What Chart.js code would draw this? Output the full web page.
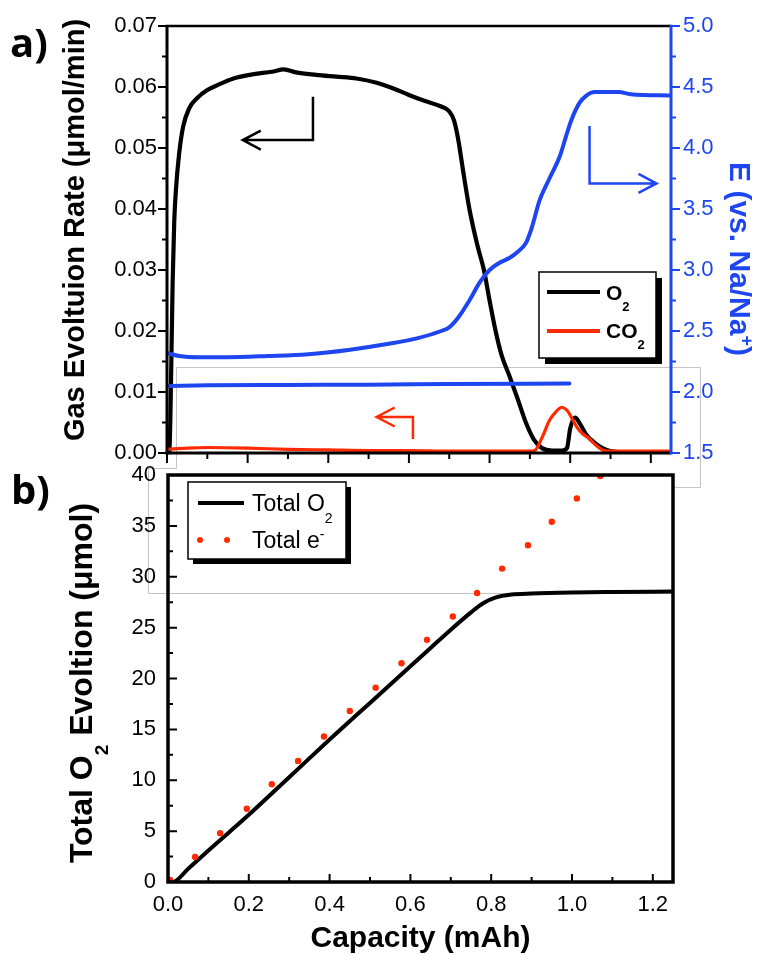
<!DOCTYPE html>
<html>
<head>
<meta charset="utf-8">
<title>Gas evolution and total O2</title>
<script src="https://cdn.jsdelivr.net/npm/chart.js@4.4.1/dist/chart.umd.min.js"></script>
<style>
  html, body { margin: 0; padding: 0; background: #fff; }
  #wrap { position: relative; width: 757px; height: 954px; }
  #wrap canvas { position: absolute; left: 0; top: 0; }
</style>
</head>
<body>
<div id="wrap">
  <canvas id="rateChart" width="757" height="954"></canvas>
  <canvas id="totalChart" width="757" height="954"></canvas>
</div>
<script>
// ---- panel a) : gas evolution rate (umol/min) and potential vs capacity (mAh)
const o2RateCap = [0, 0.006, 0.010, 0.014, 0.018, 0.022, 0.030, 0.040, 0.055, 0.075, 0.100, 0.125, 0.165, 0.215, 0.260, 0.290, 0.320, 0.370, 0.420, 0.470, 0.520, 0.560, 0.600, 0.640, 0.680, 0.700, 0.712, 0.722, 0.735, 0.750, 0.770, 0.786, 0.800, 0.815, 0.830, 0.850, 0.870, 0.890, 0.910, 0.930, 0.955, 0.980, 0.992, 1.000, 1.012, 1.025, 1.040, 1.060, 1.080, 1.100, 1.150, 1.250];
const o2Rate = [0, 0.0002, 0.0120, 0.0280, 0.0380, 0.0430, 0.0490, 0.0535, 0.0565, 0.0582, 0.0595, 0.0603, 0.0614, 0.0621, 0.0625, 0.0629, 0.0624, 0.0620, 0.0617, 0.0614, 0.0607, 0.0598, 0.0587, 0.0577, 0.0568, 0.0560, 0.0545, 0.0515, 0.0460, 0.0400, 0.0340, 0.0300, 0.0250, 0.0200, 0.0160, 0.0125, 0.0088, 0.0050, 0.0022, 0.0008, 0.0004, 0.0004, 0.0008, 0.0040, 0.0058, 0.0047, 0.0030, 0.0017, 0.0008, 0.0003, 0.0001, 0.0001];

const co2RateCap = [0, 0.05, 0.1, 0.2, 0.3, 0.4, 0.5, 0.6, 0.7, 0.8, 0.9, 0.912, 0.93, 0.949, 0.965, 0.979, 0.992, 1.005, 1.016, 1.03, 1.045, 1.06, 1.08, 1.1, 1.25];
const co2Rate = [0.0006, 0.0008, 0.0009, 0.0008, 0.0006, 0.0005, 0.0004, 0.0004, 0.0003, 0.0003, 0.0003, 0.0004, 0.0025, 0.0054, 0.0068, 0.0075, 0.0070, 0.0056, 0.0043, 0.0032, 0.0025, 0.0015, 0.0005, 0.0003, 0.0003];

const chargeCap = [0, 0.010, 0.030, 0.080, 0.150, 0.250, 0.350, 0.450, 0.550, 0.620, 0.680, 0.700, 0.720, 0.750, 0.776, 0.800, 0.825, 0.850, 0.870, 0.890, 0.905, 0.924, 0.950, 0.974, 0.990, 1.003, 1.023, 1.040, 1.060, 1.120, 1.150, 1.250];
const chargeV = [2.32, 2.31, 2.295, 2.285, 2.285, 2.295, 2.31, 2.345, 2.395, 2.44, 2.50, 2.53, 2.60, 2.75, 2.90, 3.00, 3.06, 3.10, 3.15, 3.22, 3.35, 3.57, 3.76, 3.93, 4.10, 4.23, 4.37, 4.43, 4.46, 4.46, 4.44, 4.43];

const flatCap = [0.005, 0.100, 0.300, 0.500, 0.700, 0.998];
const flatV = [2.05, 2.055, 2.058, 2.06, 2.065, 2.07];

const rateTicks = [0, 0.01, 0.02, 0.03, 0.04, 0.05, 0.06, 0.07];
const potentialTicks = [1.5, 2.0, 2.5, 3.0, 3.5, 4.0, 4.5, 5.0];
const capacityTicks = [0, 0.2, 0.4, 0.6, 0.8, 1.0, 1.2];

// ---- panel b) : cumulative O2 and electrons (umol) vs capacity (mAh)
const totalO2Cap = [0, 0.012, 0.05, 0.1, 0.2, 0.3, 0.4, 0.5, 0.6, 0.65, 0.7, 0.75, 0.78, 0.81, 0.85, 0.9, 1.0, 1.1, 1.25];
const totalO2 = [0, 0, 1.3, 3.1, 6.6, 10.3, 14.0, 17.6, 21.2, 23.0, 24.8, 26.5, 27.4, 27.95, 28.25, 28.35, 28.45, 28.5, 28.55];

const electronCap = [0.005, 0.067, 0.129, 0.195, 0.257, 0.322, 0.386, 0.45, 0.514, 0.578, 0.641, 0.705, 0.765, 0.827, 0.891, 0.95, 1.012, 1.07];
const totalElectrons = [0.2, 2.45, 4.8, 7.2, 9.6, 11.9, 14.3, 16.8, 19.1, 21.5, 23.8, 26.1, 28.4, 30.8, 33.1, 35.4, 37.7, 39.9];

const totalTicks = [0, 5, 10, 15, 20, 25, 30, 35, 40];

const FONT = '"Liberation Sans", Arial, sans-serif';
const BLUE = '#1e46f0';
const RED = '#ff2a00';

Chart.defaults.font.family = FONT;
Chart.defaults.color = '#000';

function zip(xs, ys) {
  return xs.map((x, i) => ({ x: x, y: ys[i] }));
}

// halfway points between major ticks
function minorOf(majors) {
  return majors.slice(1).map((v, i) => (v + majors[i]) / 2);
}

// tick marks on one edge of the plot; len is signed (direction of the mark)
function drawTicks(ctx, scale, values, edge, len, color) {
  ctx.save();
  ctx.strokeStyle = color;
  ctx.lineWidth = 2;
  ctx.beginPath();
  values.forEach((v) => {
    const p = scale.getPixelForValue(v);
    if (scale.isHorizontal()) {
      ctx.moveTo(p, edge);
      ctx.lineTo(p, edge + len);
    } else {
      ctx.moveTo(edge, p);
      ctx.lineTo(edge + len, p);
    }
  });
  ctx.stroke();
  ctx.restore();
}

// text made of pieces, some of them sub- or superscript
function drawRich(ctx, parts, x, y, size, weight, color, align) {
  const fontFor = (k) => weight + ' ' + (k ? Math.round(size * 0.6) : size) + 'px ' + FONT;
  let w = 0;
  parts.forEach(([t, k]) => {
    ctx.font = fontFor(k);
    w += ctx.measureText(t).width;
  });
  let cx = align === 'center' ? x - w / 2 : x;
  ctx.fillStyle = color;
  ctx.textAlign = 'left';
  ctx.textBaseline = 'alphabetic';
  parts.forEach(([t, k]) => {
    ctx.font = fontFor(k);
    const dy = k === 'sub' ? size * 0.5 : k === 'sup' ? -size * 0.38 : 0;
    ctx.fillText(t, cx, y + dy);
    cx += ctx.measureText(t).width;
  });
}

function drawRotated(ctx, parts, x, y, angle, size, weight, color) {
  ctx.save();
  ctx.translate(x, y);
  ctx.rotate(angle);
  drawRich(ctx, parts, 0, 0, size, weight, color, 'center');
  ctx.restore();
}

function legendBox(ctx, x, y, w, h, shadow) {
  ctx.save();
  ctx.fillStyle = '#000';
  ctx.fillRect(x + shadow, y + shadow, w, h);
  ctx.fillStyle = '#fff';
  ctx.fillRect(x, y, w, h);
  ctx.strokeStyle = '#000';
  ctx.lineWidth = 1.5;
  ctx.strokeRect(x, y, w, h);
  ctx.restore();
}

function segment(ctx, x1, y1, x2, y2, color, width) {
  ctx.save();
  ctx.strokeStyle = color;
  ctx.lineWidth = width;
  ctx.beginPath();
  ctx.moveTo(x1, y1);
  ctx.lineTo(x2, y2);
  ctx.stroke();
  ctx.restore();
}

// bent arrow: from (x0,y0) to the corner (x0,y1) then across to the tip (x1,y1)
function bentArrow(ctx, xs, ys, x0, y0, y1, x1, color) {
  const px0 = xs.getPixelForValue(x0), py0 = ys.getPixelForValue(y0);
  const py1 = ys.getPixelForValue(y1), px1 = xs.getPixelForValue(x1);
  const dir = px1 < px0 ? 1 : -1;
  ctx.save();
  ctx.strokeStyle = color;
  ctx.lineWidth = 2.5;
  ctx.lineJoin = 'miter';
  ctx.beginPath();
  ctx.moveTo(px0, py0);
  ctx.lineTo(px0, py1);
  ctx.lineTo(px1, py1);
  ctx.moveTo(px1 + dir * 18, py1 - 9.5);
  ctx.lineTo(px1, py1);
  ctx.lineTo(px1 + dir * 18, py1 + 9.5);
  ctx.stroke();
  ctx.restore();
}

const rateDecor = {
  id: 'rateDecor',
  beforeDatasetsDraw(chart) {
    // thin grey frame left around the panels
    const ctx = chart.ctx;
    const pts = [[673, 487], [700, 487], [700, 367], [176, 367], [176, 468], [148, 468], [148, 593], [673, 593]];
    ctx.save();
    ctx.strokeStyle = '#c4c4c4';
    ctx.lineWidth = 1;
    ctx.beginPath();
    pts.forEach(([x, y], i) => (i ? ctx.lineTo(x + 0.5, y + 0.5) : ctx.moveTo(x + 0.5, y + 0.5)));
    ctx.stroke();
    ctx.restore();
  },
  afterDraw(chart) {
    const ctx = chart.ctx;
    const a = chart.chartArea;
    const xs = chart.scales.x, ys = chart.scales.y, y2 = chart.scales.y2;

    // frame
    segment(ctx, a.left - 1.5, a.top, a.right, a.top, '#000', 2.5);
    segment(ctx, a.left, a.top, a.left, a.bottom + 1.5, '#000', 3);
    segment(ctx, a.left - 1.5, a.bottom, a.right, a.bottom, '#000', 3);
    segment(ctx, a.right, a.top - 1.2, a.right, a.bottom + 1.5, BLUE, 3);

    // ticks pointing out of the plot
    drawTicks(ctx, ys, rateTicks, a.left, -9, '#000');
    drawTicks(ctx, ys, minorOf(rateTicks), a.left, -5, '#000');
    drawTicks(ctx, y2, potentialTicks, a.right, 9, BLUE);
    drawTicks(ctx, y2, minorOf(potentialTicks), a.right, 5, BLUE);
    drawTicks(ctx, xs, capacityTicks, a.bottom, 10, '#000');
    drawTicks(ctx, xs, minorOf(capacityTicks), a.bottom, 6, '#000');

    // axis titles
    drawRotated(ctx, [['Gas Evoltuion Rate (\u03bcmol/min)', '']], 84, 230, -Math.PI / 2, 29, 'bold', '#000');
    drawRotated(ctx, [['E (vs. Na/Na', ''], ['+', 'sup'], [')', '']], 730, 259, Math.PI / 2, 30, 'bold', BLUE);

    // panel letters
    ctx.save();
    ctx.fillStyle = '#000';
    ctx.font = 'bold 40px "Open Sans", ' + FONT;
    ctx.textBaseline = 'alphabetic';
    ctx.fillText('a)', 10, 57);
    ctx.fillText('b)', 11, 504);
    ctx.restore();

    // direction arrows
    bentArrow(ctx, xs, ys, 0.362, 0.0584, 0.0513, 0.188, '#000');
    bentArrow(ctx, xs, y2, 1.048, 4.18, 3.71, 1.214, BLUE);
    bentArrow(ctx, xs, ys, 0.61, 0.0023, 0.0059, 0.52, RED);

    // legend
    legendBox(ctx, 539, 272, 117, 86, 6);
    segment(ctx, 547, 292, 600, 292, '#000', 4);
    drawRich(ctx, [['O', ''], ['2', 'sub']], 606, 300, 21, 'bold', '#000', 'left');
    segment(ctx, 547, 331, 600, 331, RED, 4);
    drawRich(ctx, [['CO', ''], ['2', 'sub']], 606, 338, 21, 'bold', '#000', 'left');
  }
};

const totalDecor = {
  id: 'totalDecor',
  afterDraw(chart) {
    const ctx = chart.ctx;
    const a = chart.chartArea;
    const xs = chart.scales.x, ys = chart.scales.y;

    ctx.save();
    ctx.strokeStyle = '#000';
    ctx.lineWidth = 3.5;
    ctx.strokeRect(a.left, a.top, a.right - a.left, a.bottom - a.top);
    ctx.restore();

    // ticks pointing into the plot
    drawTicks(ctx, ys, totalTicks, a.left, 9, '#000');
    drawTicks(ctx, ys, minorOf(totalTicks), a.left, 5, '#000');
    drawTicks(ctx, xs, capacityTicks, a.bottom, -8, '#000');
    drawTicks(ctx, xs, minorOf(capacityTicks), a.bottom, -5, '#000');

    drawRotated(ctx, [['Total O', ''], ['2', 'sub'], [' Evoltion (\u03bcmol)', '']], 92, 683, -Math.PI / 2, 32, 'bold', '#000');
    drawRich(ctx, [['Capacity (mAh)', '']], (a.left + a.right) / 2, 947, 30, 'bold', '#000', 'center');

    // legend
    legendBox(ctx, 188, 482, 158, 77, 5);
    segment(ctx, 198, 503, 244, 503, '#000', 4);
    drawRich(ctx, [['Total O', ''], ['2', 'sub']], 252, 511, 23, 'normal', '#000', 'left');
    ctx.save();
    ctx.fillStyle = RED;
    [200, 227].forEach((x) => {
      ctx.beginPath();
      ctx.arc(x, 540, 3, 0, Math.PI * 2);
      ctx.fill();
    });
    ctx.restore();
    drawRich(ctx, [['Total e', ''], ['-', 'sup']], 252, 548, 23, 'normal', '#000', 'left');
  }
};

const baseOptions = {
  responsive: false,
  animation: false,
  devicePixelRatio: 1,
  events: [],
  plugins: { legend: { display: false }, tooltip: { enabled: false } }
};

new Chart(document.getElementById('rateChart'), {
  type: 'line',
  data: {
    datasets: [
      { data: zip(chargeCap, chargeV), yAxisID: 'y2', borderColor: BLUE, borderWidth: 4, order: 0 },
      { data: zip(flatCap, flatV), yAxisID: 'y2', borderColor: BLUE, borderWidth: 4, borderCapStyle: 'round', order: 1 },
      { data: zip(co2RateCap, co2Rate), yAxisID: 'y', borderColor: RED, borderWidth: 3.2, order: 2 },
      { data: zip(o2RateCap, o2Rate), yAxisID: 'y', borderColor: '#000', borderWidth: 4.2, order: 3 }
    ]
  },
  options: {
    ...baseOptions,
    layout: { padding: { left: 107, right: 16, top: 26, bottom: 501 } },
    elements: { point: { radius: 0 }, line: { cubicInterpolationMode: 'monotone' } },
    scales: {
      x: { type: 'linear', display: false, min: 0, max: 1.25 },
      y: {
        type: 'linear', position: 'left', min: 0, max: 0.07,
        grid: { display: false, drawTicks: false }, border: { display: false },
        afterBuildTicks: (s) => { s.ticks = rateTicks.map((v) => ({ value: v })); },
        afterFit: (s) => { s.width = 60; },
        ticks: { padding: 10, font: { size: 22 }, color: '#000', callback: (v) => v.toFixed(2) }
      },
      y2: {
        type: 'linear', position: 'right', min: 1.5, max: 5,
        grid: { display: false, drawTicks: false }, border: { display: false },
        afterBuildTicks: (s) => { s.ticks = potentialTicks.map((v) => ({ value: v })); },
        afterFit: (s) => { s.width = 70; },
        ticks: { padding: 12, font: { size: 22 }, color: BLUE, callback: (v) => v.toFixed(1) }
      }
    }
  },
  plugins: [rateDecor]
});

new Chart(document.getElementById('totalChart'), {
  type: 'line',
  data: {
    datasets: [
      {
        data: zip(totalO2Cap, totalO2), borderColor: '#000', borderWidth: 4,
        pointRadius: 0, cubicInterpolationMode: 'monotone', order: 1
      },
      {
        data: zip(electronCap, totalElectrons), showLine: false,
        pointRadius: 3.2, pointBackgroundColor: RED, pointBorderWidth: 0, order: 0
      }
    ]
  },
  options: {
    ...baseOptions,
    layout: { padding: { left: 108, right: 84, top: 475, bottom: 32 } },
    scales: {
      x: {
        type: 'linear', min: 0, max: 1.25,
        grid: { display: false, drawTicks: false }, border: { display: false },
        afterBuildTicks: (s) => { s.ticks = capacityTicks.map((v) => ({ value: v })); },
        afterFit: (s) => { s.height = 40; },
        ticks: { padding: 10, font: { size: 22 }, color: '#000', maxRotation: 0, callback: (v) => v.toFixed(1) }
      },
      y: {
        type: 'linear', min: 0, max: 40,
        grid: { display: false, drawTicks: false }, border: { display: false },
        afterBuildTicks: (s) => { s.ticks = totalTicks.map((v) => ({ value: v })); },
        afterFit: (s) => { s.width = 60; },
        ticks: { padding: 12, font: { size: 22 }, color: '#000' }
      }
    }
  },
  plugins: [totalDecor]
});
</script>
</body>
</html>
